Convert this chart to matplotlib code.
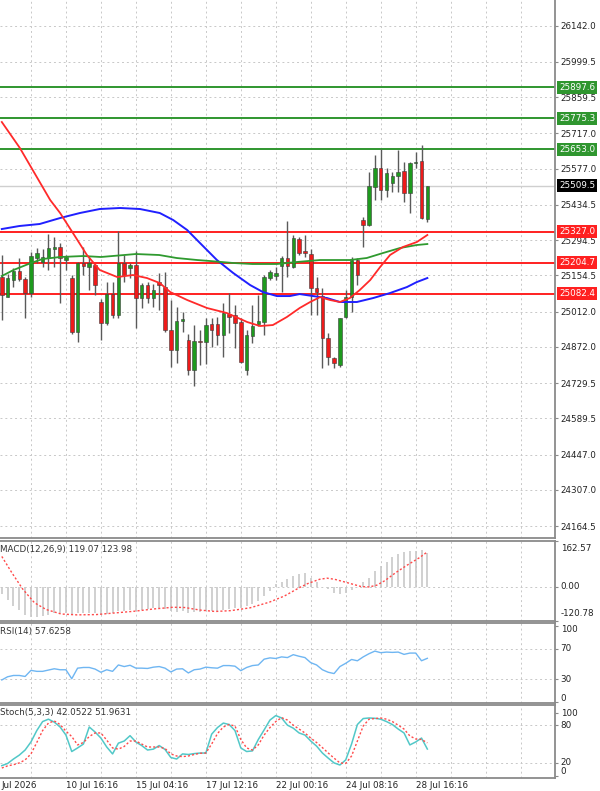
import matplotlib
matplotlib.use('Agg')
import matplotlib.pyplot as plt
import matplotlib.transforms as mtransforms

plt.rcParams['font.family'] = 'DejaVu Sans'

# ---- price candles (index 0..73) ----
opens = [25148.3, 25069.1, 25136.4, 25172.0, 25140.4, 25085.0, 25223.4, 25207.6, 25223.4, 25259.0,
         25266.8, 25215.5, 25144.3, 24931.0, 25203.7, 25187.8, 25195.8, 25049.6, 24966.5, 25081.0,
         24998.2, 25203.7, 25183.9, 25195.8, 25065.2, 25116.6, 25065.2, 25128.5, 25108.7, 24938.9,
         24859.8, 24974.5, 24899.4, 24780.8, 24895.4, 24891.4, 24962.6, 24962.6, 24919.1, 25002.2,
         24998.2, 24970.5, 24780.8, 24915.1, 24962.6, 24970.5, 25144.3, 25152.2, 25191.8, 25223.4,
         25187.8, 25298.5, 25251.1, 25239.2, 25104.8, 25073.1, 24907.2, 24828.2, 24800.5, 24990.3,
         25069.1, 25215.5, 25373.5, 25353.8, 25503.9, 25579.0, 25492.1, 25520.1, 25547.4, 25567.1,
         25480.2, 25598.7, 25606.7, 25377.5]
highs = [25235.3, 25160.2, 25183.9, 25223.4, 25148.3, 25247.2, 25262.9, 25259.0, 25318.2, 25306.3,
         25282.6, 25235.3, 25156.2, 25207.6, 25266.8, 25227.4, 25199.7, 25061.2, 25128.5, 25128.5,
         25330.0, 25235.3, 25203.7, 25251.1, 25124.5, 25128.5, 25120.6, 25164.1, 25168.1, 25057.5,
         25029.8, 25010.1, 24923.0, 24958.6, 24938.9, 24986.3, 24986.3, 24990.3, 25045.6, 25085.0,
         25037.7, 24986.3, 24938.9, 25037.7, 25077.0, 25156.2, 25176.0, 25187.8, 25231.3, 25369.6,
         25314.3, 25306.3, 25314.3, 25259.0, 25148.3, 25104.8, 24927.0, 24832.1, 24986.3, 25096.8,
         25227.4, 25223.4, 25385.6, 25563.2, 25630.4, 25654.0, 25579.0, 25563.2, 25650.1, 25602.7,
         25602.7, 25642.2, 25669.9, 25509.5]
lows = [24978.4, 25069.1, 25108.7, 25132.5, 24986.3, 25069.1, 25203.7, 25187.8, 25176.0, 25187.8,
        25045.6, 25176.0, 24925.0, 24891.4, 25156.2, 25096.8, 25077.0, 24899.4, 24958.6, 24986.3,
        24986.3, 25128.5, 25144.3, 24946.8, 25025.9, 25045.6, 25029.8, 25018.0, 24931.0, 24792.6,
        24808.4, 24931.0, 24761.0, 24717.6, 24800.5, 24804.4, 24871.7, 24879.6, 24832.1, 24927.0,
        24867.7, 24808.4, 24761.0, 24887.5, 24954.7, 24919.1, 25136.4, 25136.4, 25088.9, 25148.3,
        25183.9, 25235.3, 25227.4, 24998.2, 24998.2, 24788.7, 24800.5, 24788.7, 24792.6, 24986.3,
        25010.1, 25116.6, 25266.8, 25349.8, 25452.6, 25452.6, 25464.5, 25484.2, 25484.2, 25444.7,
        25401.2, 25579.0, 25377.5, 25365.6]
closes = [25077.0, 25144.3, 25172.0, 25140.4, 25085.0, 25231.3, 25243.2, 25227.4, 25262.9, 25266.8,
          25223.4, 25227.4, 24931.0, 25203.7, 25191.8, 25203.7, 25116.6, 24966.5, 25081.0, 24998.2,
          25203.7, 25156.2, 25195.8, 25065.2, 25116.6, 25065.2, 25096.8, 25116.6, 24938.9, 24859.8,
          24974.5, 24982.4, 24780.8, 24895.4, 24891.4, 24958.6, 24938.9, 24919.1, 25006.1, 24990.3,
          24966.5, 24812.4, 24919.1, 24954.7, 24974.5, 25148.3, 25168.1, 25164.1, 25223.4, 25191.8,
          25302.4, 25243.2, 25243.2, 25104.8, 25088.9, 24907.2, 24832.1, 24808.4, 24986.3, 25069.1,
          25215.5, 25156.2, 25353.8, 25507.9, 25579.0, 25492.1, 25559.2, 25547.4, 25563.2, 25480.2,
          25598.7, 25602.7, 25381.4, 25509.5]

ma_red_idx = [0, 3.1, 8.3, 10, 12.2, 14.6, 16.8, 19.8, 22.5, 24.9, 27.1, 28.9, 31.8, 35.2, 38.6, 42.1,
              44.3, 46.5, 48.9, 51.1, 52.9, 54.6, 56.3, 58, 59.7, 61.4, 63.2, 64.9, 66.6, 68.8, 71.2, 73]
ma_red_val = [25760.7, 25658.0, 25452.6, 25401.2, 25322.2, 25235.3, 25176.0, 25148.3, 25156.2, 25144.3,
              25124.5, 25088.9, 25057.5, 25025.9, 25006.1, 24970.5, 24954.7, 24958.6, 24990.3, 25025.9,
              25049.6, 25069.1, 25057.5, 25049.6, 25065.2, 25096.8, 25136.4, 25187.8, 25235.3, 25266.8,
              25286.6, 25314.3]
ma_green_idx = [0, 2, 5, 7, 10, 14, 17, 23, 27, 30, 33.5, 35.7, 39.7, 43, 47.2, 50.6, 54.6, 59.7, 62.6,
                65.4, 68.3, 71.2, 73]
ma_green_val = [25152.2, 25176.0, 25203.7, 25219.5, 25227.4, 25231.3, 25227.4, 25239.2, 25235.3, 25223.4,
                25215.5, 25211.6, 25203.7, 25199.7, 25199.7, 25207.6, 25215.5, 25215.5, 25223.4, 25243.2,
                25262.9, 25274.8, 25278.7]
ma_blue_idx = [0, 3, 6.5, 10, 13.4, 16.8, 20.3, 23.7, 27.1, 29.4, 31.8, 34, 36.9, 39.7, 42.6, 44.8, 47.2,
               49.4, 51.1, 53.4, 55.8, 58, 60.9, 63.7, 66.6, 69.5, 71.2, 73]
ma_blue_val = [25337.9, 25349.8, 25357.8, 25381.4, 25401.2, 25417.0, 25421.0, 25417.0, 25401.2, 25373.5,
               25334.0, 25282.6, 25215.5, 25164.1, 25116.6, 25088.9, 25073.1, 25073.1, 25081.0, 25073.1,
               25065.2, 25049.6, 25049.6, 25065.2, 25085.0, 25108.7, 25128.5, 25144.3]

# ---- levels ----
resist_levels = [25897.6, 25775.3, 25653.0]
support_levels = [25327.0, 25204.7, 25082.4]
last_price = 25509.5
price_ticks = [26142.0, 25999.5, 25859.5, 25717.0, 25577.0, 25434.5, 25294.5, 25154.5,
               25012.0, 24872.0, 24729.5, 24589.5, 24447.0, 24307.0, 24164.5]

# ---- MACD ----
macd_hist = [-26, -47, -66, -82, -98, -106, -106, -102, -98, -94, -94, -92, -98, -94, -92, -92, -94, -99,
             -96, -92, -86, -84, -80, -84, -80, -78, -75, -74, -78, -86, -88, -86, -92, -90, -90, -87,
             -86, -84, -80, -78, -74, -74, -68, -59, -50, -32, -14, 10, 18, 27, 37, 45, 48, 30, 16, 1,
             -8, -20, -26, -20, -11, -2, 16, 33, 57, 75, 90, 105, 117, 125, 129, 129, 131, 119.07]
macd_sig_idx = [0, 1.7, 3.6, 5.6, 7.6, 10.2, 12.9, 16.2, 19.5, 22.8, 26.1, 29.4, 31.4, 34, 36.6, 39.3,
                42.6, 45.9, 48.5, 51.1, 52.5, 54.5, 55.8, 57.1, 59.1, 61.7, 63, 64.3, 65.7, 67.6, 69.6,
                71.6, 73]
macd_sig_val = [108, 51, -8, -56, -80, -96, -99, -98, -92, -86, -78, -72, -73, -82, -87, -84, -74, -54,
                -32, -2, 12, 27, 31, 27, 16, 1, 0, 6, 22, 51, 78, 103, 123.98]

# ---- RSI ----
rsi = [29.2, 33.4, 35.1, 35.1, 33.8, 41.8, 40.5, 40.5, 42.2, 43.9, 42.6, 42.6, 30.8, 44.7, 45.6, 45.6,
       43.5, 39.3, 42.6, 40.5, 48.9, 46.8, 48.5, 44.7, 44.7, 44.3, 46.0, 46.8, 44.7, 39.7, 43.5, 43.9,
       38.4, 42.6, 43.5, 46.0, 45.2, 44.7, 48.1, 48.1, 47.3, 41.4, 45.6, 48.1, 48.9, 56.5, 58.2, 57.4,
       59.5, 58.6, 62.4, 60.3, 58.6, 51.9, 48.9, 42.6, 39.3, 37.6, 46.8, 51.1, 56.1, 54.4, 59.5, 63.7,
       67.1, 65.0, 65.8, 65.4, 65.8, 62.8, 64.5, 64.5, 54.4, 57.6258]

# ---- Stochastic ----
stoch_k = [15.7, 19.1, 26.2, 32.4, 40.5, 53.3, 71.4, 85.7, 89.5, 84.8, 77.1, 64.3, 38.1, 43.8, 50.0,
           77.1, 69.1, 59.5, 45.3, 34.3, 51.4, 54.8, 63.3, 53.3, 47.6, 40.5, 41.9, 47.6, 41.4, 28.6,
           26.2, 34.3, 33.4, 34.8, 35.7, 35.7, 65.7, 76.2, 83.3, 81.0, 71.4, 43.8, 38.1, 39.1, 57.2,
           72.4, 88.1, 95.2, 91.4, 80.0, 75.2, 67.6, 64.3, 54.8, 46.7, 35.7, 27.6, 20.0, 16.7, 24.8,
           50.0, 81.0, 90.5, 91.4, 90.9, 89.5, 85.7, 81.0, 73.8, 67.6, 48.6, 53.3, 59.5, 42.0522]
stoch_d = [11.9, 15.3, 17.2, 20.0, 24.8, 34.3, 52.4, 71.4, 83.3, 86.7, 81.0, 70.5, 61.9, 48.6, 52.4,
           61.9, 67.6, 67.6, 56.2, 43.8, 41.9, 46.2, 54.8, 54.8, 50.0, 45.3, 45.3, 45.3, 42.9, 34.3,
           31.0, 30.0, 31.0, 33.4, 35.3, 35.7, 50.0, 66.7, 77.1, 81.0, 78.6, 57.2, 43.8, 40.5, 48.6,
           64.3, 76.2, 85.7, 91.9, 88.1, 80.0, 73.8, 67.6, 59.5, 52.4, 44.3, 35.7, 27.6, 20.0, 19.1,
           31.0, 54.8, 78.6, 89.5, 90.5, 91.4, 89.5, 85.7, 80.0, 73.8, 62.9, 58.1, 57.2, 51.9631]

date_labels = ["Jul 2026", "10 Jul 16:16", "15 Jul 04:16", "17 Jul 12:16",
               "22 Jul 00:16", "24 Jul 08:16", "28 Jul 16:16"]
date_label_idx = [-0.1, 11, 23, 35, 47, 59, 71]

GRID = '#c8c8c8'
FRAME = '#8a8a8a'
TXT = '#222222'
FS = 6.3
XLIM = (-0.31, 94.9)


def right_label(a, value, text, dy=0, va='center'):
    tf = mtransforms.blended_transform_factory(a.transAxes, a.transData)
    a.annotate(text, xy=(1.0, value), xycoords=tf, xytext=(4, dy), textcoords='offset points',
               ha='left', va=va, fontsize=FS, color=TXT, annotation_clip=False)


fig = plt.figure(figsize=(6, 7.91), dpi=100)
ax = fig.add_axes([0, 0.3198, 0.925, 0.6802])
ax_macd = fig.add_axes([0, 0.2149, 0.925, 0.1011])
ax_rsi = fig.add_axes([0, 0.1113, 0.925, 0.1011])
ax_st = fig.add_axes([0, 0.0164, 0.925, 0.0923])

for a in (ax, ax_macd, ax_rsi, ax_st):
    a.set_xlim(*XLIM)
    a.set_facecolor('white')
    a.spines['left'].set_visible(False)
    for s in ('right', 'top', 'bottom'):
        a.spines[s].set_color(FRAME)
        a.spines[s].set_linewidth(1.3)
    a.yaxis.tick_right()
    a.tick_params(axis='y', direction='out', length=2.5, width=0.8, color=FRAME,
                  labelsize=FS, labelcolor=TXT, pad=1.2)
    a.tick_params(axis='x', bottom=False, labelbottom=False)
    for gx in range(-1, 95, 6):
        a.axvline(gx, color=GRID, lw=0.7, ls=(0, (2, 3)), zorder=0)
ax.spines['top'].set_visible(False)

# ---- main price panel ----
ax.set_ylim(24117.1, 26242.75)
ax.set_yticks(price_ticks)
ax.set_yticklabels([f"{v:.1f}" for v in price_ticks])
for v in price_ticks:
    ax.axhline(v, color=GRID, lw=0.7, ls=(0, (2, 3)), zorder=0)

ax.axhline(last_price, color='#cfcfcf', lw=1.0, zorder=1)
for lv in resist_levels:
    ax.axhline(lv, color='#2f962f', lw=1.4, zorder=2)
for lv in support_levels:
    ax.axhline(lv, color='#ff2020', lw=1.4, zorder=2)

idx = list(range(len(opens)))
ax.vlines(idx, lows, highs, color='#5a5a5a', lw=1.0, zorder=3)
bottoms = [min(o, c) for o, c in zip(opens, closes)]
heights = [max(abs(c - o), 3.5) for o, c in zip(opens, closes)]
colors = ['#1e9a1e' if c >= o else '#ee1a1a' for o, c in zip(opens, closes)]
ax.bar(idx, heights, bottom=bottoms, width=0.6, color=colors, edgecolor='#3b3b3b',
       linewidth=0.4, zorder=4)

ax.plot(ma_blue_idx, ma_blue_val, color='#2020ff', lw=1.4, zorder=5)
ax.plot(ma_green_idx, ma_green_val, color='#2f9a2f', lw=1.3, zorder=5)
ax.plot(ma_red_idx, ma_red_val, color='#ff2a2a', lw=1.3, zorder=5)

box_tf = mtransforms.blended_transform_factory(ax.transAxes, ax.transData)
for lv in resist_levels:
    ax.text(1.0075, lv, f"{lv:.1f}", transform=box_tf, ha='left', va='center', fontsize=FS,
            color='white', zorder=10, clip_on=False,
            bbox=dict(boxstyle='square,pad=0.22', fc='#2f962f', ec='none'))
for lv in support_levels:
    ax.text(1.0075, lv, f"{lv:.1f}", transform=box_tf, ha='left', va='center', fontsize=FS,
            color='white', zorder=10, clip_on=False,
            bbox=dict(boxstyle='square,pad=0.22', fc='#ff2020', ec='none'))
ax.text(1.0075, last_price, f"{last_price:.1f}", transform=box_tf, ha='left', va='center',
        fontsize=FS, color='white', zorder=10, clip_on=False,
        bbox=dict(boxstyle='square,pad=0.22', fc='black', ec='none'))

# ---- MACD panel ----
ax_macd.set_ylim(-120.78, 162.57)
ax_macd.set_yticks([162.57, 0, -120.78])
ax_macd.set_yticklabels([])
ax_macd.axhline(0, color=GRID, lw=0.7, ls=(0, (2, 3)), zorder=0)
ax_macd.vlines(idx, 0, macd_hist, color='#c8c8c8', lw=1.2, zorder=2)
ax_macd.plot(macd_sig_idx, macd_sig_val, color='#ff4a4a', lw=1.0, ls=(0, (1.5, 1.5)), zorder=3)
right_label(ax_macd, 162.57, "162.57", dy=-2, va='top')
right_label(ax_macd, 0, "0.00")
right_label(ax_macd, -120.78, "-120.78", dy=2, va='bottom')
ax_macd.annotate("MACD(12,26,9) 119.07 123.98", xy=(0, 1), xycoords='axes fraction',
                 xytext=(0.3, -3), textcoords='offset points', ha='left', va='top',
                 fontsize=FS, color='#333333')

# ---- RSI panel ----
ax_rsi.set_ylim(-1, 104)
ax_rsi.set_yticks([100, 70, 30, 0])
ax_rsi.set_yticklabels([])
for lv in (70, 30):
    ax_rsi.axhline(lv, color=GRID, lw=0.7, ls=(0, (2, 3)), zorder=0)
ax_rsi.plot(idx, rsi, color='#6fb6f2', lw=1.0, zorder=3)
right_label(ax_rsi, 100, "100", dy=-2.5)
right_label(ax_rsi, 70, "70")
right_label(ax_rsi, 30, "30")
right_label(ax_rsi, 0, "0", dy=3)
ax_rsi.annotate("RSI(14) 57.6258", xy=(0, 1), xycoords='axes fraction', xytext=(0.3, -3),
                textcoords='offset points', ha='left', va='top', fontsize=FS, color='#333333')

# ---- Stochastic panel ----
ax_st.set_ylim(-4, 112)
ax_st.set_yticks([100, 80, 20, 0])
ax_st.set_yticklabels([])
for lv in (80, 20):
    ax_st.axhline(lv, color=GRID, lw=0.7, ls=(0, (2, 3)), zorder=0)
ax_st.plot(idx, stoch_k, color='#52c8c8', lw=1.1, zorder=3)
ax_st.plot(idx, stoch_d, color='#ff4a4a', lw=1.0, ls=(0, (1.5, 1.5)), zorder=4)
right_label(ax_st, 100, "100", dy=-1)
right_label(ax_st, 80, "80")
right_label(ax_st, 20, "20")
right_label(ax_st, 0, "0", dy=3)
ax_st.annotate("Stoch(5,3,3) 42.0522 51.9631", xy=(0, 1), xycoords='axes fraction',
               xytext=(0.3, -2), textcoords='offset points', ha='left', va='top',
               fontsize=FS, color='#333333')

for lab, li in zip(date_labels, date_label_idx):
    ax_st.annotate(lab, xy=(li, 0), xycoords=('data', 'axes fraction'), xytext=(0, -2.5),
                   textcoords='offset points', ha='left', va='top', fontsize=FS, color=TXT,
                   annotation_clip=False)

fig.savefig('out.png', dpi=100, facecolor='white')
